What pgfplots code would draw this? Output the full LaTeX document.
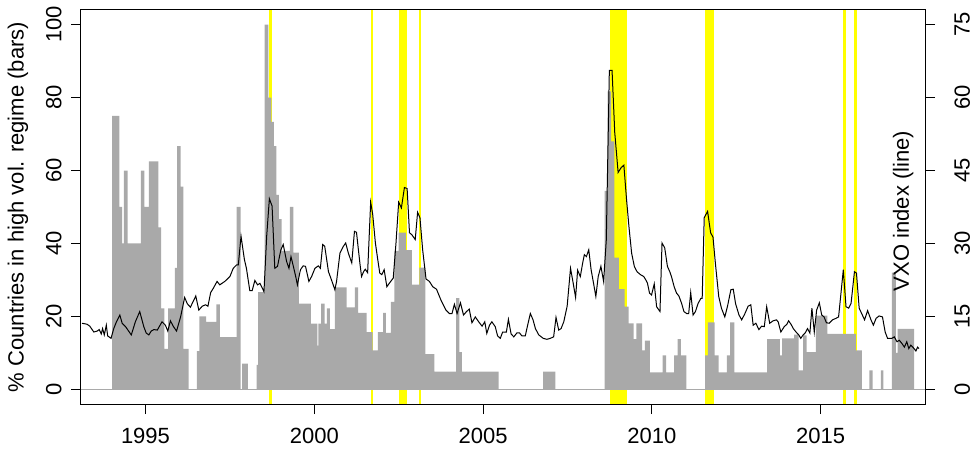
\documentclass[border=0pt]{standalone}
\usepackage{pgfplots}
\pgfplotsset{compat=1.18}
\usepackage{fontspec}
\setmainfont{Liberation Sans}
\definecolor{barg}{RGB}{169,169,169}
\definecolor{bandy}{RGB}{255,255,0}
\newcommand{\bigf}{\fontsize{22}{26}\selectfont}
\begin{document}
\begin{tikzpicture}
\path[use as bounding box] (-81pt,-54pt) rectangle (893pt,404pt);
\begin{axis}[
  at={(0,0)}, anchor=south west,
  scale only axis, width=844pt, height=394pt,
  xmin=1993.09, xmax=2018.09, ymin=-4, ymax=104,
  axis on top,
  axis line style={line width=1pt},
  xtick={1995,2000,2005,2010,2015},
  xticklabels={1995,2000,2005,2010,2015},
  ytick={0,20,40,60,80,100},
  yticklabels={0,20,40,60,80,100},
  xtick pos=left, ytick pos=left,
  tick align=outside, major tick length=10pt,
  tick style={line width=1pt, black},
  every tick label/.append style={font=\bigf},
  yticklabel style={rotate=90, anchor=south},
  xticklabel shift=11pt, yticklabel shift=6pt,
  ylabel={\% Countries in high vol. regime (bars)},
  ylabel style={font=\bigf, at={(axis description cs:-0.0746,0.5)}, anchor=center},
]
% yellow bands
\addplot[fill=bandy, draw=none, forget plot] coordinates {(1998.667,-4) (1998.76,-4) (1998.76,104) (1998.667,104)} -- cycle;
\addplot[fill=bandy, draw=none, forget plot] coordinates {(2001.68,-4) (2001.75,-4) (2001.75,104) (2001.68,104)} -- cycle;
\addplot[fill=bandy, draw=none, forget plot] coordinates {(2002.51,-4) (2002.76,-4) (2002.76,104) (2002.51,104)} -- cycle;
\addplot[fill=bandy, draw=none, forget plot] coordinates {(2003.09,-4) (2003.17,-4) (2003.17,104) (2003.09,104)} -- cycle;
\addplot[fill=bandy, draw=none, forget plot] coordinates {(2008.75,-4) (2009.26,-4) (2009.26,104) (2008.75,104)} -- cycle;
\addplot[fill=bandy, draw=none, forget plot] coordinates {(2011.57,-4) (2011.84,-4) (2011.84,104) (2011.57,104)} -- cycle;
\addplot[fill=bandy, draw=none, forget plot] coordinates {(2015.67,-4) (2015.75,-4) (2015.75,104) (2015.67,104)} -- cycle;
\addplot[fill=bandy, draw=none, forget plot] coordinates {(2015.98,-4) (2016.07,-4) (2016.07,104) (2015.98,104)} -- cycle;
% zero line
\addplot[barg, line width=1pt, forget plot] coordinates {(1993.09,0) (2018.09,0)};
% bars (share of countries in high volatility regime)
\addplot[const plot, fill=barg, draw=none, forget plot] coordinates {
(1993.09,0) (1994.01,75) (1994.23,50) (1994.31,40) (1994.36,60) (1994.47,40)
(1994.86,60) (1994.97,50) (1995.10,62.5) (1995.38,44.4) (1995.46,22.2) (1995.56,11.1)
(1995.67,22.2) (1995.87,33.3) (1995.94,66.7) (1996.04,55.6) (1996.12,11.1) (1996.28,0)
(1996.52,10.5) (1996.60,20) (1996.80,18.5) (1997.10,23.3) (1997.20,14.3) (1997.70,50)
(1997.82,0) (1997.86,7.1) (1998.03,0) (1998.29,6.7) (1998.34,26.7) (1998.53,100)
(1998.64,80) (1998.73,73.3) (1998.80,66.7) (1998.88,53.3) (1998.95,46.7) (1999.03,38)
(1999.28,50) (1999.38,37.5) (1999.54,23.5) (1999.90,18) (2000.09,12) (2000.12,18)
(2000.20,23.5) (2000.31,18) (2000.37,22.2) (2000.46,16.5) (2000.61,28) (2000.96,22.5)
(2001.20,28) (2001.30,21) (2001.55,15.7) (2001.73,10.7) (2001.88,15.7) (2002.04,21)
(2002.12,15.5) (2002.27,24) (2002.37,38) (2002.50,43) (2002.71,38.2) (2002.89,28.7)
(2003.11,33.4) (2003.29,9.7) (2003.56,4.9) (2004.20,25) (2004.30,10.2) (2004.37,4.9)
(2005.46,0) (2006.78,4.9) (2007.14,0) (2008.60,54.4) (2008.69,81.7) (2008.79,68)
(2008.89,36.1) (2009.02,27.5) (2009.19,22.7) (2009.31,18.1) (2009.46,13.8) (2009.54,18.1)
(2009.71,10.7) (2009.79,13.4) (2009.94,4.7) (2010.32,9.3) (2010.42,4.7) (2010.66,9.3)
(2010.76,13.8) (2010.86,9.3) (2011.02,0) (2011.58,9.3) (2011.66,18.4) (2011.86,9.3)
(2011.98,4.7) (2012.22,9.3) (2012.32,18.4) (2012.44,4.7) (2013.41,13.8) (2013.79,9.3)
(2013.86,14) (2014.21,15) (2014.35,5.2) (2014.48,14.8) (2014.58,10.2) (2014.86,20.2)
(2015.20,15.2) (2016.04,10.7) (2016.22,0) (2016.44,5.2) (2016.54,0) (2016.78,5.2)
(2016.86,0) (2017.11,32) (2017.23,10) (2017.28,16.6) (2017.77,0) (2018.09,0)
} \closedcycle;
\end{axis}
\begin{axis}[
  at={(0,0)}, anchor=south west,
  scale only axis, width=844pt, height=394pt,
  xmin=1993.09, xmax=2018.09, ymin=-3, ymax=78,
  axis x line=none, axis y line*=right,
  axis line style={line width=1pt},
  ytick={0,15,30,45,60,75},
  yticklabels={0,15,30,45,60,75},
  tick align=outside, major tick length=10pt,
  tick style={line width=1pt, black},
  every tick label/.append style={font=\bigf},
  yticklabel style={rotate=90, anchor=north},
  yticklabel shift=16pt,
]
\addplot[black, line width=1pt] coordinates {
(1993.12,13.6) (1993.27,13.4) (1993.35,13.0) (1993.47,11.8) (1993.57,12.0) (1993.63,12.3)
(1993.69,11.4) (1993.73,12.5) (1993.78,11.2) (1993.84,13.2) (1993.88,11.0) (1993.98,10.5)
(1994.06,12.5) (1994.14,13.9) (1994.24,15.3) (1994.31,13.6) (1994.41,12.9) (1994.58,11.2)
(1994.70,13.9) (1994.83,16.0) (1994.95,12.9) (1995.02,11.6) (1995.10,11.2) (1995.17,12.0)
(1995.25,12.3) (1995.35,12.2) (1995.49,13.9) (1995.59,13.2) (1995.66,12.0) (1995.74,14.1)
(1995.82,13.0) (1995.92,12.0) (1996.04,14.9) (1996.16,18.9) (1996.24,17.6) (1996.33,16.9)
(1996.49,19.2) (1996.58,16.3) (1996.68,17.1) (1996.78,17.4) (1996.85,17.1) (1996.93,19.9)
(1997.01,20.8) (1997.12,22.2) (1997.20,21.5) (1997.35,22.2) (1997.50,23.2) (1997.60,24.9)
(1997.70,25.6) (1997.75,25.6) (1997.83,31.5) (1997.93,26.7) (1997.99,24.9) (1998.09,20.3)
(1998.16,20.3) (1998.24,22.4) (1998.32,21.5) (1998.39,21.8) (1998.44,21.1) (1998.51,20.1)
(1998.59,31.5) (1998.67,39.2) (1998.75,37.7) (1998.83,24.9) (1998.91,25.3) (1999.01,28.7)
(1999.08,29.8) (1999.18,26.3) (1999.25,24.9) (1999.31,27.3) (1999.38,25.3) (1999.45,23.2)
(1999.50,21.5) (1999.59,24.6) (1999.67,25.4) (1999.74,25.3) (1999.84,22.2) (1999.92,23.2)
(2000.02,24.9) (2000.12,25.4) (2000.18,24.9) (2000.25,29.8) (2000.31,29.4) (2000.42,24.2)
(2000.51,22.5) (2000.61,20.5) (2000.66,22.2) (2000.76,28.0) (2000.86,29.4) (2000.93,30.1)
(2001.01,28.0) (2001.11,26.0) (2001.19,32.5) (2001.25,32.3) (2001.35,26.0) (2001.40,23.2)
(2001.46,24.2) (2001.51,24.7) (2001.58,24.0) (2001.67,38.5) (2001.73,36.0) (2001.81,30.1)
(2001.88,26.7) (2001.94,23.9) (2002.00,23.6) (2002.07,24.6) (2002.15,21.1) (2002.22,21.8)
(2002.34,22.9) (2002.42,30.1) (2002.50,38.5) (2002.58,37.3) (2002.67,41.5) (2002.75,41.3)
(2002.82,32.2) (2002.89,31.8) (2002.99,30.8) (2003.06,36.4) (2003.13,35.3) (2003.21,28.7)
(2003.31,22.7) (2003.41,22.2) (2003.51,21.1) (2003.62,20.6) (2003.75,18.4) (2003.90,16.3)
(2004.00,15.6) (2004.08,15.6) (2004.15,17.5) (2004.23,15.6) (2004.33,17.8) (2004.42,15.3)
(2004.51,16.0) (2004.59,16.5) (2004.67,13.7) (2004.77,14.9) (2004.87,13.9) (2004.97,13.0)
(2005.05,13.9) (2005.11,11.5) (2005.19,13.2) (2005.26,13.9) (2005.36,12.9) (2005.43,11.0)
(2005.51,10.5) (2005.58,11.8) (2005.69,11.8) (2005.75,14.4) (2005.83,11.4) (2005.91,10.8)
(2006.00,11.6) (2006.08,11.6) (2006.15,11.0) (2006.25,11.0) (2006.32,13.2) (2006.40,15.6)
(2006.48,14.3) (2006.55,12.5) (2006.65,11.2) (2006.78,10.5) (2006.89,10.3) (2006.99,10.5)
(2007.09,10.8) (2007.16,14.8) (2007.24,12.2) (2007.31,12.5) (2007.39,13.9) (2007.49,17.1)
(2007.59,24.9) (2007.67,21.8) (2007.74,18.9) (2007.80,24.5) (2007.88,23.2) (2007.95,26.0)
(2008.00,27.7) (2008.06,27.3) (2008.13,28.7) (2008.20,24.6) (2008.28,21.5) (2008.34,19.1)
(2008.41,23.2) (2008.49,25.3) (2008.57,22.2) (2008.65,30.8) (2008.74,65.6) (2008.82,65.6)
(2008.90,52.8) (2009.00,44.6) (2009.09,45.6) (2009.17,46.1) (2009.25,39.0) (2009.32,33.5)
(2009.40,28.0) (2009.48,25.3) (2009.56,24.2) (2009.66,23.6) (2009.76,23.2) (2009.82,22.5)
(2009.87,21.8) (2009.93,19.8) (2009.99,19.4) (2010.07,21.7) (2010.14,17.0) (2010.24,16.0)
(2010.30,30.1) (2010.38,29.1) (2010.46,25.3) (2010.53,24.2) (2010.58,23.2) (2010.66,21.1)
(2010.73,19.8) (2010.80,19.2) (2010.88,17.7) (2010.95,16.0) (2011.03,15.6) (2011.09,15.6)
(2011.15,19.9) (2011.22,15.3) (2011.29,16.0) (2011.37,17.7) (2011.45,18.7) (2011.49,18.7)
(2011.55,35.3) (2011.65,36.6) (2011.74,32.2) (2011.81,31.3) (2011.88,26.0) (2011.98,19.1)
(2012.06,16.7) (2012.16,14.9) (2012.24,17.1) (2012.34,20.5) (2012.41,20.6) (2012.48,17.6)
(2012.58,15.3) (2012.66,14.3) (2012.75,15.5) (2012.85,17.1) (2012.93,17.4) (2013.00,13.2)
(2013.08,13.6) (2013.17,12.3) (2013.25,13.0) (2013.33,12.9) (2013.40,17.0) (2013.49,13.6)
(2013.59,14.1) (2013.69,14.3) (2013.74,13.9) (2013.82,11.8) (2013.92,12.9) (2014.00,13.4)
(2014.05,14.1) (2014.12,13.4) (2014.19,12.5) (2014.27,11.8) (2014.35,11.2) (2014.41,10.5)
(2014.48,11.2) (2014.54,11.6) (2014.61,12.5) (2014.68,11.6) (2014.74,16.7) (2014.81,11.8)
(2014.88,16.3) (2014.96,17.8) (2015.03,15.3) (2015.10,14.9) (2015.17,13.7) (2015.25,13.6)
(2015.35,14.3) (2015.45,14.6) (2015.53,14.9) (2015.67,24.6) (2015.75,17.0) (2015.83,16.7)
(2015.90,17.7) (2016.00,24.2) (2016.06,23.9) (2016.14,16.7) (2016.22,15.5) (2016.30,14.3)
(2016.39,16.2) (2016.49,14.3) (2016.56,13.2) (2016.64,14.6) (2016.73,15.1) (2016.83,14.9)
(2016.91,11.8) (2016.98,10.5) (2017.11,10.5) (2017.18,10.8) (2017.26,9.8) (2017.33,10.1)
(2017.41,9.4) (2017.48,8.7) (2017.55,9.8) (2017.61,8.4) (2017.67,9.1) (2017.74,8.6)
(2017.82,7.9) (2017.87,8.7) (2017.91,8.4)
};
\node[rotate=90, font=\bigf, inner sep=0pt] at (rel axis cs:0.974,0.49) {VXO index (line)};
\end{axis}
\end{tikzpicture}
\end{document}
